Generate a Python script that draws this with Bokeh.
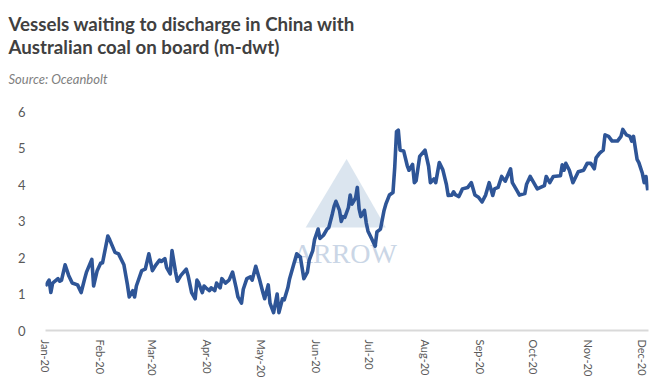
from datetime import datetime, timedelta

from bokeh.plotting import figure
from bokeh.models import (Range1d, Title, Label, MonthsTicker, DatetimeTickFormatter,
                          PolyAnnotation)
from bokeh.embed import file_html
from bokeh.resources import INLINE

# ---- data ----
title_line1 = "Vessels waiting to discharge in China with"
title_line2 = "Australian coal on board (m-dwt)"
source_text = "Source: Oceanbolt"
watermark_text = "ARROW"

start_date = datetime(2020, 1, 1)
day_offset = [0, 2, 3, 4, 7, 8, 9, 11, 13, 15, 18, 20, 22, 23, 26, 27, 29, 31, 32, 35,
              36, 39, 41, 44, 46, 47, 49, 50, 51, 54, 56, 58, 60, 62, 64, 65, 67, 68, 70, 71,
              73, 74, 76, 79, 80, 82, 84, 85, 86, 88, 89, 90, 92, 93, 95, 96, 98, 99, 101, 103,
              105, 107, 108, 110, 111, 113, 115, 116, 118, 120, 122, 123, 125, 126, 128, 130, 131, 133, 134, 136,
              137, 139, 141, 143, 144, 145, 147, 148, 150, 151, 153, 154, 156, 158, 159, 161, 162, 163, 165, 166,
              167, 168, 170, 171, 172, 174, 175, 176, 177, 179, 180, 181, 183, 185, 186, 188, 190, 191, 193, 195,
              196, 197, 198, 199, 201, 203, 204, 206, 207, 208, 210, 213, 215, 216, 218, 219, 221, 223, 225, 226,
              228, 229, 230, 232, 234, 237, 239, 241, 243, 245, 247, 249, 251, 252, 254, 256, 258, 261, 262, 265,
              266, 269, 270, 272, 274, 276, 280, 281, 283, 285, 289, 290, 291, 292, 294, 296, 299, 302, 304, 306,
              308, 309, 311, 313, 314, 316, 318, 321, 323, 324, 326, 328, 329, 330, 332, 333, 335, 336, 337, 338]
vessels_mdwt = [1.22, 1.38, 1.04, 1.30, 1.42, 1.35, 1.38, 1.80, 1.51, 1.30, 1.25, 1.04, 1.42, 1.60, 1.95, 1.22, 1.64, 1.85, 1.85, 2.59,
                2.49, 2.14, 2.10, 1.80, 1.25, 0.92, 1.09, 0.92, 1.22, 1.64, 1.68, 2.10, 1.64, 1.80, 1.93, 1.89, 1.97, 1.72, 1.55, 2.19,
                1.60, 1.35, 1.51, 1.68, 1.51, 1.04, 0.87, 1.38, 1.30, 1.04, 1.22, 1.17, 1.09, 1.17, 1.09, 1.30, 1.17, 1.42, 1.30, 1.38,
                1.60, 1.17, 0.92, 0.75, 1.13, 1.42, 1.47, 1.38, 1.76, 1.42, 1.04, 0.87, 1.25, 0.75, 0.49, 1.00, 0.49, 0.87, 0.84, 1.17,
                1.42, 1.76, 2.10, 2.02, 1.72, 1.42, 1.60, 1.93, 2.19, 2.49, 2.78, 2.52, 2.61, 2.78, 2.82, 3.20, 3.41, 3.54, 3.29, 2.99,
                3.12, 3.10, 3.37, 3.71, 3.46, 3.63, 3.92, 3.33, 3.12, 3.29, 2.95, 2.72, 2.52, 2.31, 2.70, 2.78, 3.29, 3.46, 3.71, 3.78,
                4.47, 5.45, 5.49, 4.94, 4.92, 4.52, 4.39, 4.55, 4.05, 4.10, 4.77, 4.94, 4.50, 4.05, 4.15, 4.05, 4.60, 4.40, 4.00, 3.70,
                3.71, 3.80, 3.72, 3.67, 3.88, 3.92, 4.05, 3.71, 3.65, 3.52, 3.71, 4.05, 3.70, 3.88, 3.92, 4.22, 4.09, 4.43, 4.05, 3.80,
                3.71, 3.75, 4.01, 4.22, 4.05, 3.88, 3.97, 4.22, 4.05, 4.22, 4.24, 4.54, 4.39, 4.58, 4.39, 4.05, 4.35, 4.39, 4.58, 4.58,
                4.43, 4.73, 4.86, 4.94, 5.36, 5.32, 5.19, 5.19, 5.32, 5.51, 5.36, 5.32, 5.19, 5.32, 4.69, 4.60, 4.30, 4.05, 4.22, 3.84]
y_ticks = [0, 1, 2, 3, 4, 5, 6]
watermark_day = 168
watermark_value = 2.1

dates = [start_date + timedelta(days=d) for d in day_offset]

LINE_BLUE = "#2E5597"
TEXT_DARK = "#404040"
TEXT_GREY = "#595959"
FONT = "Lato"

p = figure(width=670, height=380, output_backend="svg", toolbar_location=None,
           x_axis_type="datetime",
           x_range=Range1d(dates[0], dates[-1] + timedelta(hours=10)),
           y_range=Range1d(0, 6))

p.min_border_left = 45
p.min_border_right = 22
p.min_border_top = 0
p.min_border_bottom = 0
p.outline_line_color = None
p.background_fill_color = "white"
p.border_fill_color = "white"
p.xgrid.grid_line_color = None
p.ygrid.grid_line_color = None

# watermark (logo sail + name), drawn faintly behind the data
sail = PolyAnnotation(xs=[start_date + timedelta(days=146), start_date + timedelta(days=169),
                          start_date + timedelta(days=191)],
                      ys=[2.82, 4.7, 2.82], fill_color="#B8CCE0", fill_alpha=0.5,
                      line_color=None, level="underlay")
p.add_layout(sail)
wm = Label(x=start_date + timedelta(days=watermark_day), y=watermark_value, text=watermark_text,
           text_font="Liberation Serif", text_font_size="28px", text_color="#CAD6E6",
           text_align="center", text_baseline="middle", level="underlay")
p.add_layout(wm)

p.line(dates, vessels_mdwt, line_color=LINE_BLUE, line_width=3.6, line_join="round")

# axes
xa = p.xaxis[0]
xa.ticker = MonthsTicker(months=list(range(12)))
xa.formatter = DatetimeTickFormatter(days="%b-%y", months="%b-%y", years="%b-%y")
xa.major_label_orientation = "vertical"
xa.axis_line_color = "#D9D9D9"
xa.axis_line_width = 2
xa.major_tick_line_color = None
xa.minor_tick_line_color = None
xa.major_label_text_font = FONT
xa.major_label_text_font_size = "11px"
xa.major_label_text_color = TEXT_GREY
xa.major_label_standoff = 3

ya = p.yaxis[0]
ya.ticker = y_ticks
ya.axis_line_color = None
ya.major_tick_line_color = None
ya.minor_tick_line_color = None
ya.major_label_text_font = FONT
ya.major_label_text_font_size = "13px"
ya.major_label_text_color = TEXT_GREY
ya.major_label_standoff = 14

# titles (added inner-most first)
p.add_layout(Title(text=source_text, text_font=FONT, text_font_style="italic",
                   text_font_size="13px", text_color="#7F7F7F", align="left",
                   offset=-37, standoff=49), "above")
p.add_layout(Title(text=title_line2, text_font=FONT, text_font_style="bold",
                   text_font_size="18.7px", text_color=TEXT_DARK, align="left",
                   offset=-37, standoff=-26), "above")
p.add_layout(Title(text=title_line1, text_font=FONT, text_font_style="bold",
                   text_font_size="18.7px", text_color=TEXT_DARK, align="left",
                   offset=-37, standoff=20), "above")

open("out.html", "w").write(file_html(p, INLINE))
